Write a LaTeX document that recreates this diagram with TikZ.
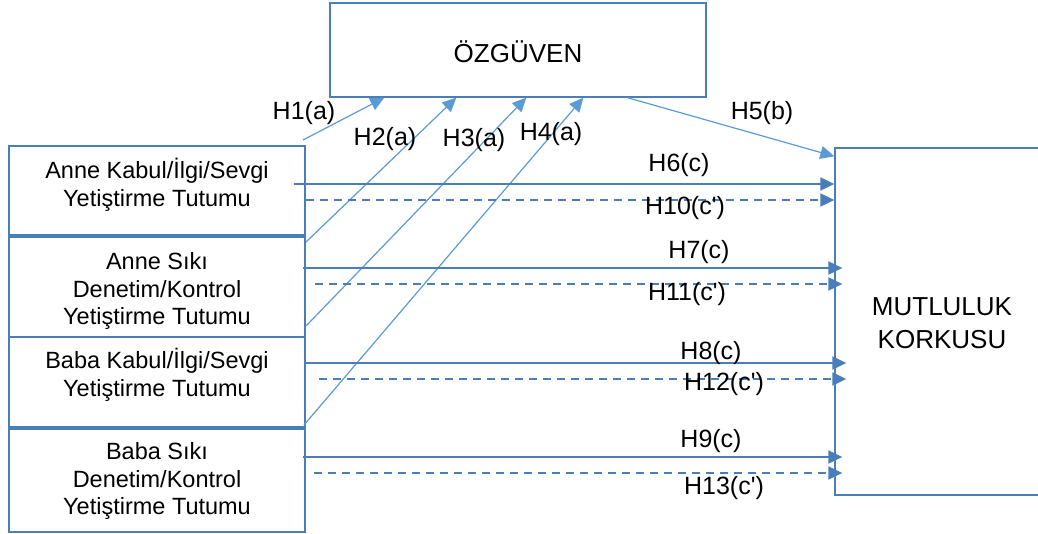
\documentclass[tikz,border=0pt]{standalone}
\usepackage{fontspec}
\setmainfont{Liberation Sans}
\newfontfamily\plainfont{Liberation Sans}[Ligatures=ResetAll]
\usetikzlibrary{arrows.meta,calc}
\definecolor{boxblue}{HTML}{4A7EBB}
\definecolor{lightblue}{HTML}{5B9BD5}
\tikzset{
  leftbox/.style={draw=boxblue,line width=2pt,minimum width=296pt,inner sep=0pt},
  bigbox/.style={draw=boxblue,line width=1.3pt,inner sep=0pt},
  boxtext/.style={align=center,font=\fontsize{23.5}{27.5}\selectfont,inner sep=0pt},
  bigtext/.style={align=center,font=\fontsize{26}{33}\selectfont,inner sep=0pt},
  lbl/.style={font=\plainfont\fontsize{25}{30}\selectfont,inner sep=0pt},
  diag/.style={draw=lightblue,line width=1.2pt,-{Triangle[length=14pt,width=13pt]}},
  hsolid/.style={draw=boxblue,line width=2pt,-{Triangle[length=14pt,width=13pt]}},
  hdash/.style={draw=boxblue,line width=2pt,dash pattern=on 8pt off 6pt,-{Triangle[length=14pt,width=13pt]}}
}
\begin{document}
\begin{tikzpicture}[x=1pt,y=-1pt]
\clip (0,0) rectangle (1038,534);
\fill[white] (0,0) rectangle (1038,534);
% boxes
\node[leftbox,minimum height=89pt] (b1) at (157,190.5) {};
\node[leftbox,minimum height=100pt] (b2) at (157,287) {};
\node[leftbox,minimum height=90pt] (b3) at (157,382) {};
\node[leftbox,minimum height=103pt] (b4) at (157,480.5) {};
\node[boxtext] (t1) at (157,185) {Anne Kabul/İlgi/Sevgi\\Yetiştirme Tutumu};
\node[boxtext] (t2) at (157,291) {Anne Sıkı\\Denetim/Kontrol\\Yetiştirme Tutumu};
\node[boxtext] (t3) at (157,375) {Baba Kabul/İlgi/Sevgi\\Yetiştirme Tutumu};
\node[boxtext] (t4) at (157,481) {Baba Sıkı\\Denetim/Kontrol\\Yetiştirme Tutumu};
\node[bigbox,minimum width=376pt,minimum height=94pt] (oz) at (518,50) {};
\node[bigtext] (ozt) at (518,52) {ÖZGÜVEN};
\node[bigbox,minimum width=265pt,minimum height=347pt] (mk) at (967.5,321.5) {};
\node[bigtext] (mkt) at (942,323.5) {MUTLULUK\\KORKUSU};
% diagonal arrows to ÖZGÜVEN
\draw[diag] ($(b1.north east)+(-3,-5)$) -- ($(oz.south west)+(55,0)$);
\draw[diag] ($(b2.north east)+(0,6)$) -- ($(oz.south west)+(127,0)$);
\draw[diag] ($(b3.north east)+(0,-10)$) -- ($(oz.south west)+(197,0)$);
\draw[diag] ($(b4.north east)+(-2,-3)$) -- ($(oz.south west)+(254,0)$);
\draw[diag] ($(oz.south west)+(298,0)$) -- ($(mk.north west)+(0,9)$);
% horizontal arrows
\draw[hsolid] ($(b1.east)+(-12,-6.5)$) -- ($(mk.west)+(0,-137.5)$);
\draw[hdash]  ($(b1.east)+(0,9.5)$) -- ($(mk.west)+(0,-121.5)$);
\draw[hsolid] ($(b2.east)+(-3,-19)$) -- ($(mk.west)+(8,-53.5)$);
\draw[hdash]  ($(b2.east)+(9,-3)$) -- ($(mk.west)+(8,-37.5)$);
\draw[hsolid] ($(b3.east)+(0,-19)$) -- ($(mk.west)+(12,41.5)$);
\draw[hdash]  ($(b3.east)+(13,-3)$) -- ($(mk.west)+(12,57.5)$);
\draw[hsolid] ($(b4.east)+(-3,-23.5)$) -- ($(mk.west)+(8,135.5)$);
\draw[hdash]  ($(b4.east)+(8,-7.5)$) -- ($(mk.west)+(8,151.5)$);
% labels
\node[lbl] (l1) at (304,113) {H1(a)};
\node[lbl] (l2) at (385,139) {H2(a)};
\node[lbl] (l3) at (474,140) {H3(a)};
\node[lbl] (l4) at (551,134) {H4(a)};
\node[lbl] (l5) at (762,113) {H5(b)};
\node[lbl] (l6) at (679,165) {H6(c)};
\node[lbl] (l10) at (685,208) {H10(c')};
\node[lbl] (l7) at (699,252) {H7(c)};
\node[lbl] (l11) at (687,294) {H11(c')};
\node[lbl] (l8) at (711,353) {H8(c)};
\node[lbl] (l12) at (724,384) {H12(c')};
\node[lbl] (l9) at (711,441) {H9(c)};
\node[lbl] (l13) at (724,488) {H13(c')};
\end{tikzpicture}
\end{document}
